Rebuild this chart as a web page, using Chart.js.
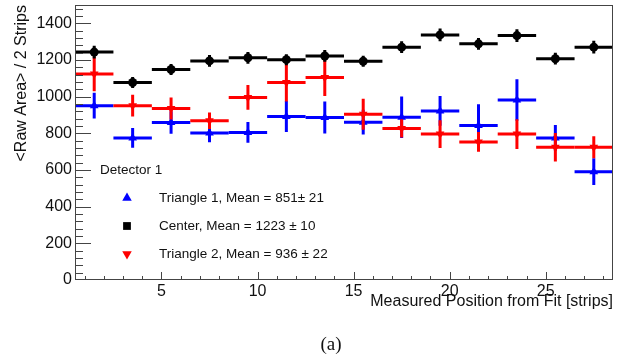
<!DOCTYPE html>
<html>
<head>
<meta charset="utf-8">
<script src="https://cdn.jsdelivr.net/npm/chart.js@4/dist/chart.umd.min.js"></script>
<style>
  html, body { margin: 0; padding: 0; background: #fff; }
</style>
</head>
<body>
<canvas id="rawArea" width="630" height="354"></canvas>
<script>
// bin centres along the strip axis, each bin is 2 strips wide
const positions = [1.5, 3.5, 5.5, 7.5, 9.5, 11.5, 13.5, 15.5, 17.5, 19.5, 21.5, 23.5, 25.5, 27.5];
const binHalf = 1;

const tri1Vals = [951, 775, 859, 802, 805, 892, 886, 861, 888, 922, 843, 982, 775, 591];
const tri1Errs = [70, 54, 61, 51, 57, 85, 87, 68, 113, 81, 115, 113, 70, 73];

const centerVals = [1243, 1077, 1148, 1195, 1212, 1202, 1222, 1193, 1270, 1337, 1288, 1333, 1207, 1270];
const centerErrs = [35, 30, 30, 32, 32, 30, 32, 30, 32, 35, 32, 35, 32, 35];

const tri2Vals = [1124, 951, 935, 868, 996, 1077, 1104, 904, 827, 796, 753, 796, 724, 724];
const tri2Errs = [95, 59, 60, 45, 68, 103, 100, 85, 50, 76, 54, 81, 78, 60];

const legendHeader = 'Detector 1';
const tri1Label = 'Triangle 1, Mean = 851\u00b1 21';
const centerLabel = 'Center, Mean = 1223 \u00b1 10';
const tri2Label = 'Triangle 2, Mean = 936 \u00b1 22';

const xTicks = [5, 10, 15, 20, 25];
const yTicks = [0, 200, 400, 600, 800, 1000, 1200, 1400];

const xTitle = 'Measured Position from Fit [strips]';
const yTitle = '<Raw Area> / 2 Strips';
const caption = '(a)';

const FONT = '"Liberation Sans", Arial, sans-serif';

function points(vals) {
  return vals.map((v, i) => ({ x: positions[i], y: v }));
}

// horizontal bin bar + vertical error bar for every point of a dataset
function drawErrors(chart, index) {
  const ds = chart.data.datasets[index];
  const xs = chart.scales.x, ys = chart.scales.y;
  const ctx = chart.ctx;
  ctx.save();
  ctx.strokeStyle = ds.borderColor;
  ctx.lineWidth = 3;
  ds.data.forEach((p, i) => {
    const e = ds.errors[i];
    const px = xs.getPixelForValue(p.x), py = ys.getPixelForValue(p.y);
    ctx.beginPath();
    ctx.moveTo(xs.getPixelForValue(p.x - binHalf), py);
    ctx.lineTo(xs.getPixelForValue(p.x + binHalf), py);
    ctx.moveTo(px, ys.getPixelForValue(p.y - e));
    ctx.lineTo(px, ys.getPixelForValue(p.y + e));
    ctx.stroke();
  });
  ctx.restore();
}

const rootStyle = {
  id: 'rootStyle',
  beforeDatasetDraw(chart, args) {
    drawErrors(chart, args.index);
  },
  afterDraw(chart) {
    const ctx = chart.ctx;
    const { left, right, top, bottom } = chart.chartArea;
    const xs = chart.scales.x, ys = chart.scales.y;
    ctx.save();

    // frame
    ctx.strokeStyle = '#444';
    ctx.lineWidth = 1;
    ctx.strokeRect(left + 0.5, top + 0.5, right - left - 1, bottom - top - 1);

    // inward ticks
    ctx.beginPath();
    for (let v = 40; v < ys.max; v += 40) {
      const y = Math.round(ys.getPixelForValue(v)) + 0.5;
      const len = v % 200 === 0 ? 16 : 8;
      ctx.moveTo(left, y);
      ctx.lineTo(left + len, y);
    }
    for (let v = 1; v < xs.max; v += 1) {
      const x = Math.round(xs.getPixelForValue(v)) + 0.5;
      const len = v % 5 === 0 ? 8 : 4;
      ctx.moveTo(x, bottom);
      ctx.lineTo(x, bottom - len);
    }
    ctx.stroke();

    // legend
    ctx.fillStyle = '#111';
    ctx.font = '13.5px ' + FONT;
    ctx.textBaseline = 'middle';
    ctx.textAlign = 'left';
    ctx.fillText(legendHeader, 100, 170);
    const rows = [
      [chart.data.datasets[2], 198],
      [chart.data.datasets[0], 226],
      [chart.data.datasets[1], 254]
    ];
    rows.forEach(([ds, y]) => {
      const style = ds.pointStyle === 'circle' ? 'rect' : ds.pointStyle;
      ctx.fillStyle = ds.backgroundColor;
      ctx.strokeStyle = ds.backgroundColor;
      Chart.helpers.drawPoint(ctx, {
        pointStyle: style,
        radius: 5.5,
        rotation: ds.pointRotation || 0,
        borderWidth: 0
      }, 127, y);
      ctx.fillStyle = '#111';
      ctx.fillText(ds.label, 159, y);
    });

    // caption under the plot
    ctx.font = '19px "Liberation Serif", "Times New Roman", serif';
    ctx.textAlign = 'center';
    ctx.fillText(caption, 331, 345);
    ctx.restore();
  }
};

new Chart(document.getElementById('rawArea'), {
  type: 'scatter',
  data: {
    datasets: [
      {
        label: centerLabel,
        data: points(centerVals),
        errors: centerErrs,
        borderColor: '#000',
        backgroundColor: '#000',
        pointStyle: 'circle',
        pointRadius: 4.5,
        pointBorderWidth: 0
      },
      {
        label: tri2Label,
        data: points(tri2Vals),
        errors: tri2Errs,
        borderColor: '#ff0000',
        backgroundColor: '#ff0000',
        pointStyle: 'triangle',
        pointRotation: 180,
        pointRadius: 5,
        pointBorderWidth: 0
      },
      {
        label: tri1Label,
        data: points(tri1Vals),
        errors: tri1Errs,
        borderColor: '#0000ff',
        backgroundColor: '#0000ff',
        pointStyle: 'triangle',
        pointRadius: 5,
        pointBorderWidth: 0
      }
    ]
  },
  options: {
    responsive: false,
    animation: false,
    devicePixelRatio: 1,
    layout: { padding: { top: 2, right: 17, left: 0, bottom: 0 } },
    plugins: {
      legend: { display: false },
      tooltip: { enabled: false }
    },
    scales: {
      x: {
        type: 'linear',
        min: 0.5,
        max: 28.5,
        grid: { display: false, drawTicks: false, tickLength: 0 },
        border: { display: false },
        afterBuildTicks: s => { s.ticks = xTicks.map(v => ({ value: v })); },
        afterFit: s => { s.height = 74; s.paddingLeft = 0; s.paddingRight = 0; },
        ticks: { padding: 2, color: '#111', font: { family: FONT, size: 16 }, maxRotation: 0, callback: v => String(v) },
        title: {
          display: true,
          text: xTitle,
          align: 'end',
          color: '#111',
          font: { family: FONT, size: 16 },
          padding: { top: 0, bottom: 43 }
        }
      },
      y: {
        type: 'linear',
        min: 0,
        max: 1500,
        grid: { display: false, drawTicks: false, tickLength: 0 },
        border: { display: false },
        afterBuildTicks: s => { s.ticks = yTicks.map(v => ({ value: v })); },
        afterFit: s => { s.width = 75; s.paddingTop = 0; s.paddingBottom = 0; },
        ticks: { padding: 3, color: '#111', font: { family: FONT, size: 16 }, callback: v => String(v) },
        title: {
          display: true,
          text: yTitle,
          align: 'end',
          color: '#111',
          font: { family: FONT, size: 16 },
          padding: { top: 12, bottom: 0 }
        }
      }
    }
  },
  plugins: [rootStyle]
});
</script>
</body>
</html>
